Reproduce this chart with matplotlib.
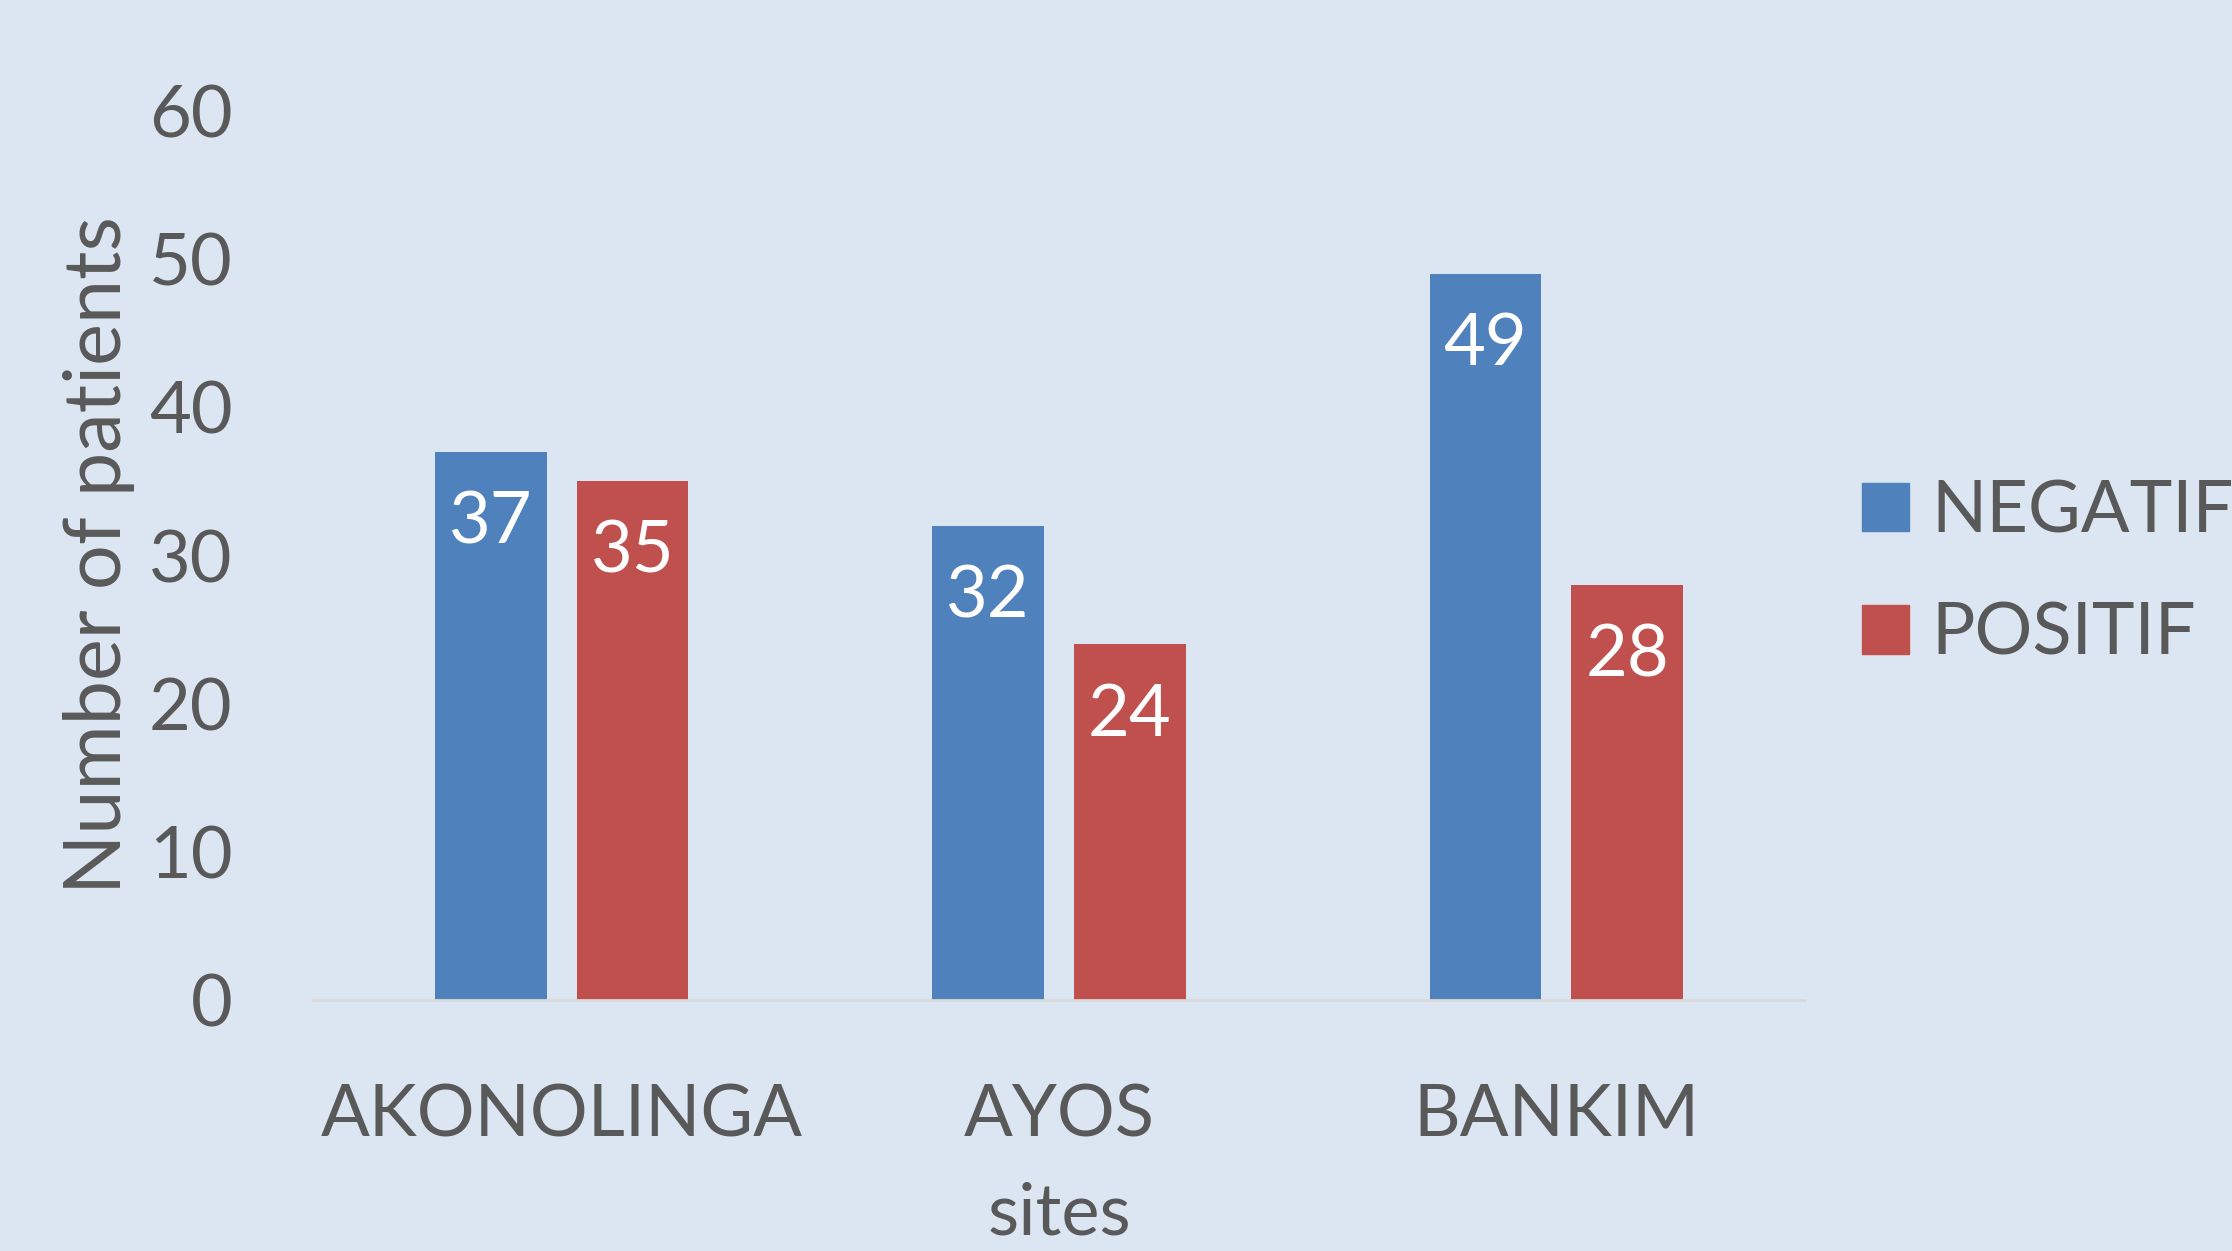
import numpy as np
import matplotlib
matplotlib.use("Agg")
import matplotlib.pyplot as plt
from matplotlib.patches import Patch

# data
sites = ["AKONOLINGA", "AYOS", "BANKIM"]
negatif = [37, 32, 49]
positif = [35, 24, 28]
series_names = ["NEGATIF", "POSITIF"]
yticks = [0, 10, 20, 30, 40, 50, 60]

BG = "#DCE6F2"
BLUE = "#4F81BD"
RED = "#C0504D"
GREY = "#595959"
FS = 52

plt.rcParams["font.family"] = ["Lato", "DejaVu Sans"]

fig = plt.figure(figsize=(22.32, 12.51), dpi=100, facecolor=BG)
ax = fig.add_axes([0.1402, 0.2006, 0.6685, 0.7107], facecolor=BG)

x = np.arange(len(sites))
w = 0.225
off = 0.1425
b1 = ax.bar(x - off, negatif, w, color=BLUE, label=series_names[0])
b2 = ax.bar(x + off, positif, w, color=RED, label=series_names[1])

for bars, vals in ((b1, negatif), (b2, positif)):
    for r, v in zip(bars, vals):
        ax.annotate(str(v), (r.get_x() + r.get_width() / 2, v), xytext=(0, -51),
                    textcoords="offset points", ha="center", va="center",
                    color="white", fontsize=FS)

ax.set_xlim(-0.5, 2.5)
ax.set_ylim(0, 60)
ax.set_xticks(x)
ax.set_xticklabels(sites)
ax.set_yticks(yticks)
ax.tick_params(axis="both", length=0, labelsize=FS, labelcolor=GREY)
ax.tick_params(axis="y", pad=58)
ax.tick_params(axis="x", pad=60)
for s in ("top", "right", "left"):
    ax.spines[s].set_visible(False)
ax.spines["bottom"].set_color("#D9D9D9")
ax.spines["bottom"].set_linewidth(2)

ax.set_ylabel("Number of patients", fontsize=57, color=GREY, labelpad=10)
ax.set_xlabel("sites", fontsize=FS, color=GREY, labelpad=24)

handles = [Patch(color=BLUE), Patch(color=RED)]
fig.legend(handles, series_names, loc="center left", bbox_to_anchor=(0.8215, 0.542),
           frameon=False, fontsize=FS, labelcolor=GREY, handlelength=0.65,
           handleheight=0.65, handletextpad=0.3, labelspacing=0.8, borderaxespad=0)

fig.savefig("out.png", dpi=100, facecolor=BG)
